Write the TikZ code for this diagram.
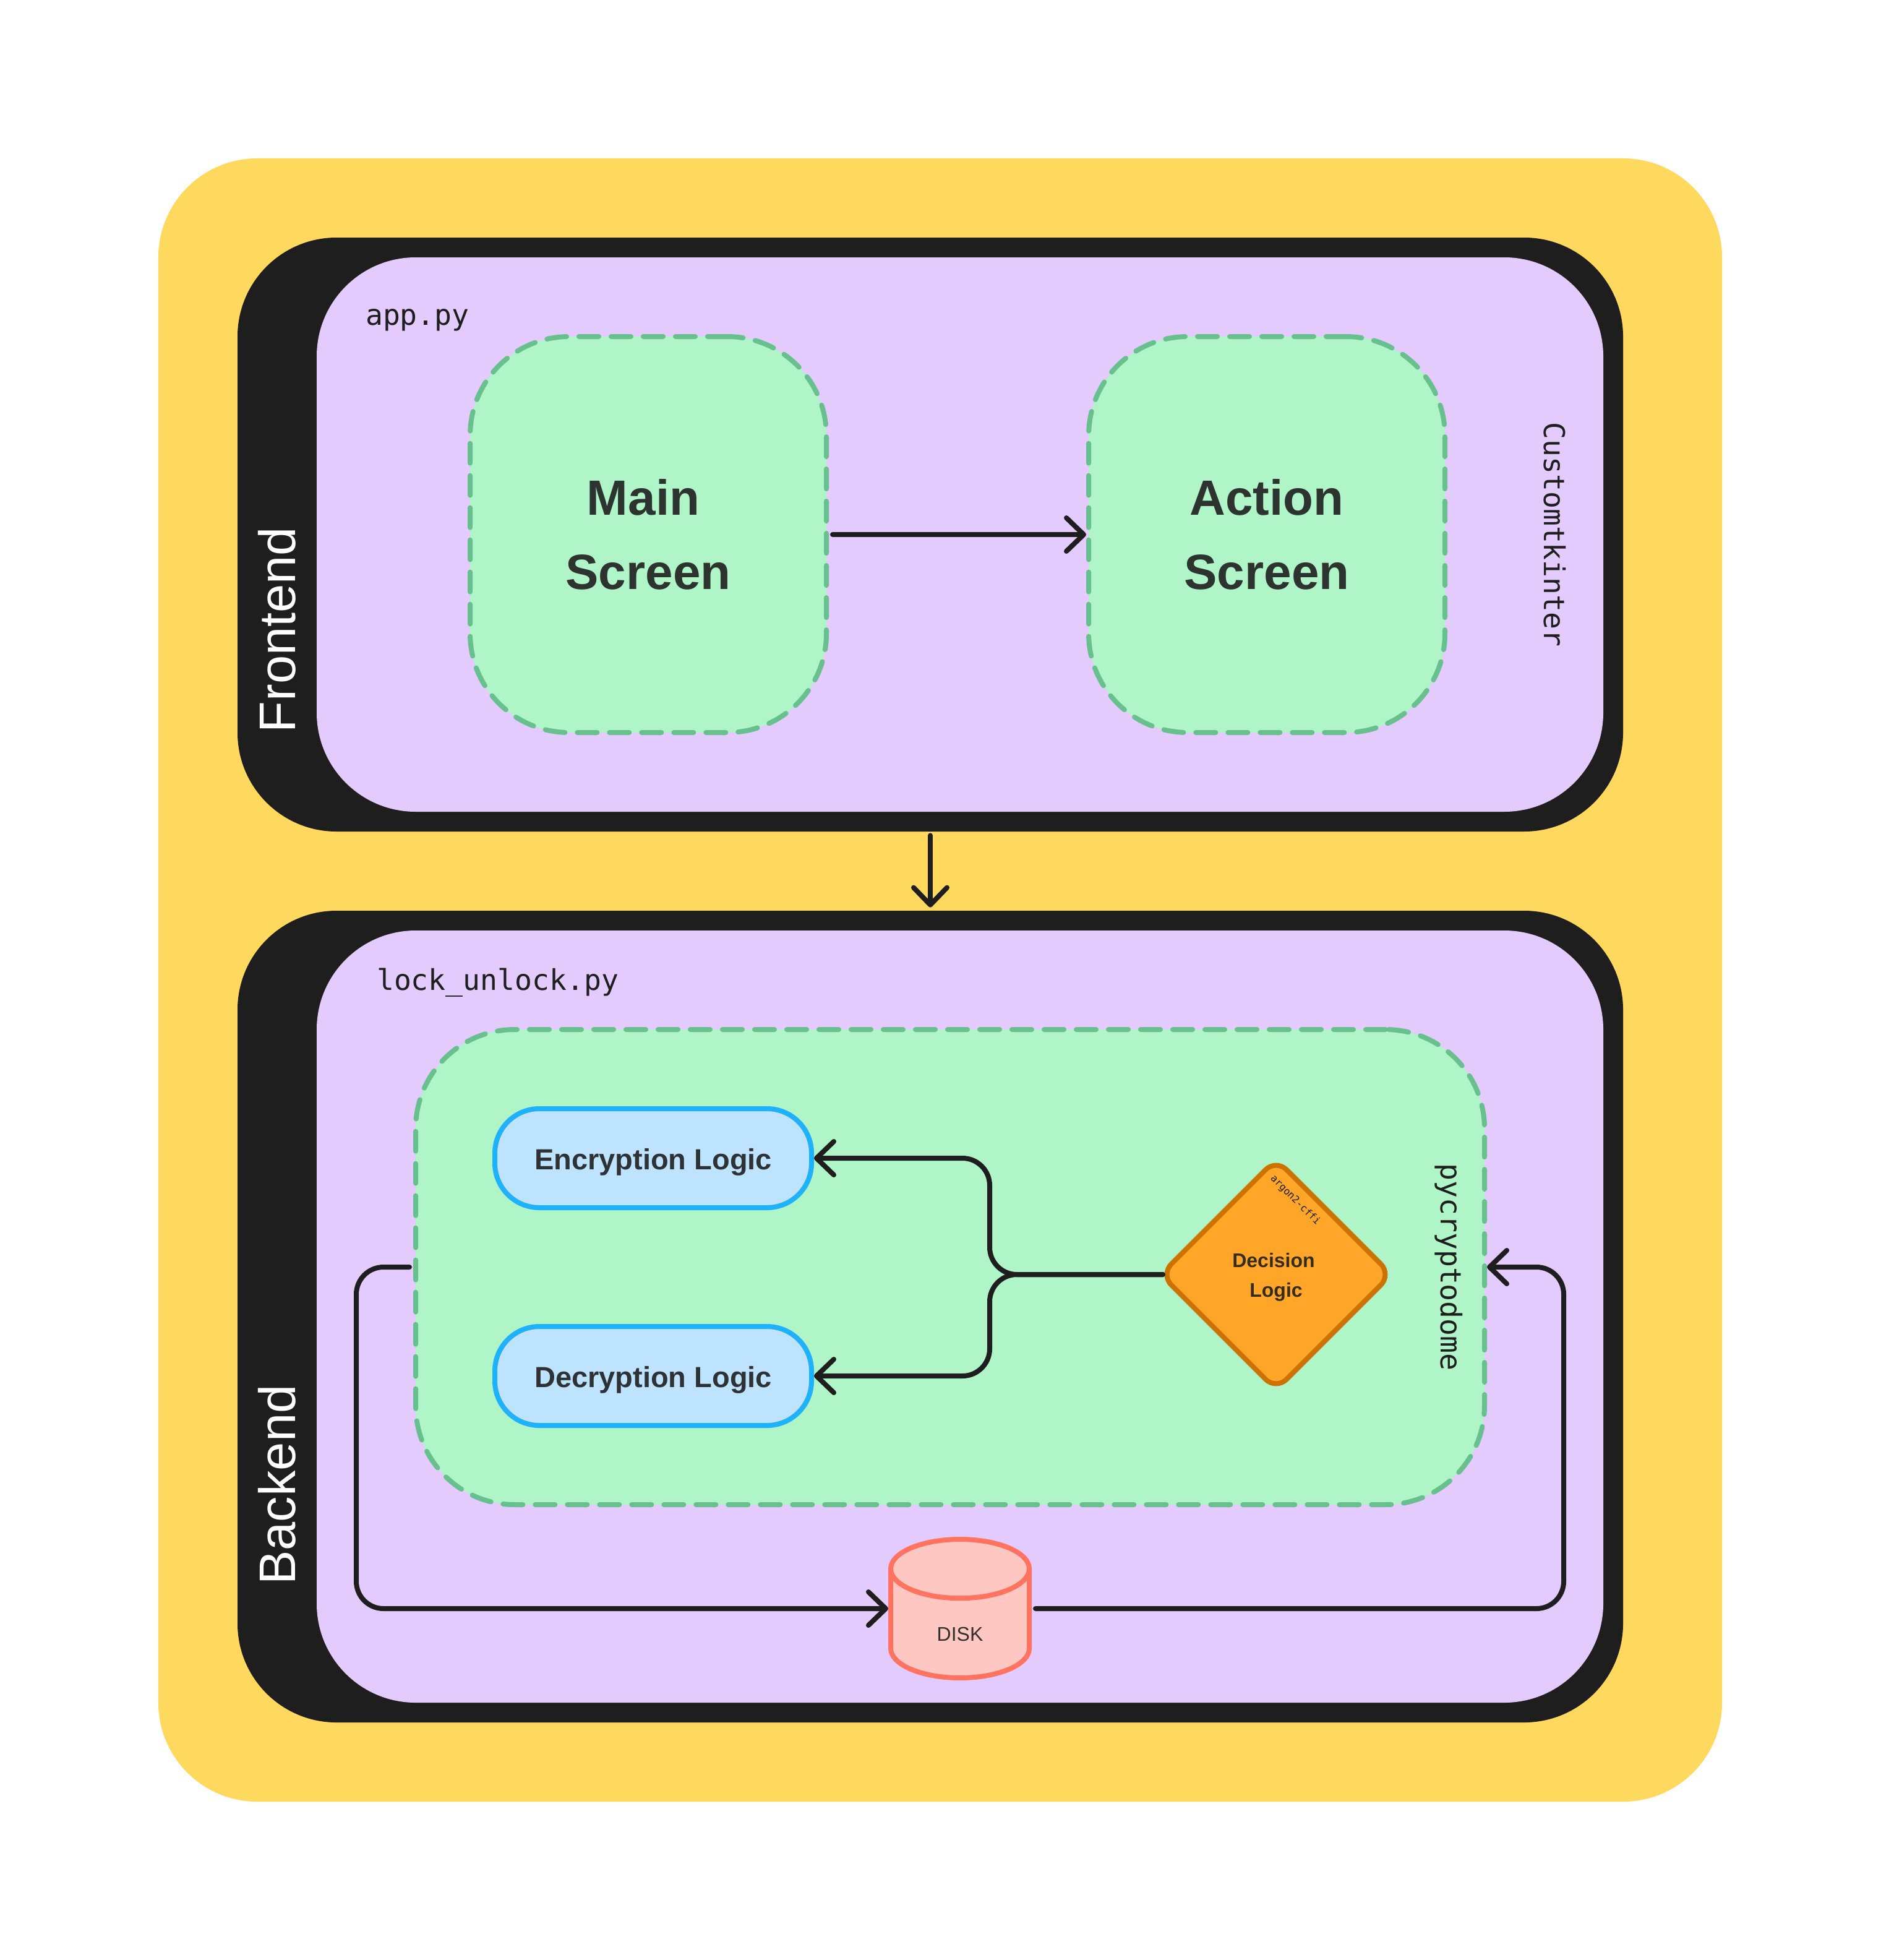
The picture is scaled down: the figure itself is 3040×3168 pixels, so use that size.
\documentclass[tikz,border=0pt]{standalone}
\usepackage{fontspec}
\setmainfont{Liberation Sans}
\setmonofont{DejaVu Sans Mono}
\usetikzlibrary{arrows.meta,shapes.geometric}
\definecolor{sand}{HTML}{FFD95E}
\definecolor{ink}{HTML}{1E1E1E}
\definecolor{lilac}{HTML}{E3CCFD}
\definecolor{mint}{HTML}{AFF5C8}
\definecolor{moss}{HTML}{69C08F}
\definecolor{sky}{HTML}{BDE3FF}
\definecolor{azure}{HTML}{1FB2FA}
\definecolor{amber}{HTML}{FFA629}
\definecolor{rust}{HTML}{CC7200}
\definecolor{blush}{HTML}{FFC7C2}
\definecolor{coral}{HTML}{FF7360}
\begin{document}
\begin{tikzpicture}[x=0.5pt,y=-0.5pt,
  panel/.style={rectangle,inner sep=0pt,rounded corners=80pt},
  layer/.style={panel,fill=ink,minimum width=1120pt},
  module/.style={panel,fill=lilac,minimum width=1040pt},
  zone/.style={panel,fill=mint,draw=moss,line width=4pt,line cap=round,dash pattern=on 16pt off 10pt},
  screenbox/.style={zone,minimum width=288pt,minimum height=320pt,align=center,font=\fontsize{40}{60}\selectfont\bfseries,text=ink!90!mint},
  logicbox/.style={panel,rounded corners=36pt,fill=sky,draw=azure,line width=4pt,minimum width=256pt,minimum height=80pt,text height=18.5pt,text depth=0pt,font=\fontsize{23.5}{24}\selectfont\bfseries,text=ink!90!sky},
  sidename/.style={font=\fontsize{41.5}{40}\selectfont,text=white,rotate=90},
  codename/.style={font=\ttfamily\fontsize{23.2}{23}\selectfont,text=ink},
  flow/.style={draw=ink,line width=4pt,line cap=round,-{Straight Barb[length=14pt,width=27pt,round]},shorten <=3pt},
  bentflow/.style={flow,rounded corners=22pt}]
\useasboundingbox (0,0) rectangle (3040,3168);
\node [panel,fill=sand,minimum width=1264pt,minimum height=1328pt] (board) at (1520,1584) {};
\node [layer,minimum height=480pt] (frontend) at (1504,864) {};
\node [layer,minimum height=656pt] (backend) at (1504,2128) {};
\node [module,minimum height=448pt] (apppy) at (1552,864) {};
\node [module,minimum height=624pt] (lockpy) at (1552,2128) {};
\node [sidename] (frontname) at (448,1018) {Frontend};
\node [sidename] (backname) at (448,2400) {Backend};
\node [codename,anchor=base west] (appname) at (584,525) {app.py};
\node [codename,anchor=base west] (lockname) at (602,1600) {lock\_unlock.py};
\node [screenbox] (main) at (1048,864) {Main\kern8pt\\Screen};
\node [screenbox] (action) at (2048,864) {Action\\Screen};
\node [codename,rotate=-90] (gui) at (2514,864) {Customtkinter};
\node [zone,minimum width=864pt,minimum height=384pt] (crypto) at (1536,2048) {};
\node [codename,rotate=-90] (lib) at (2342,2048) {pycryptodome};
\node [logicbox] (enc) at (1056,1872) {Encryption Logic};
\node [logicbox] (dec) at (1056,2224) {Decryption Logic};
\node [diamond,aspect=1,inner sep=0pt,rounded corners=12pt,fill=amber,draw=rust,line width=4pt,minimum size=188pt,align=center,font=\fontsize{16}{24}\selectfont\bfseries,text=ink!90!amber] (decide) at (2063,2060) {\rule{0pt}{15.5pt}Decision\kern4pt\\Logic};
\node [codename,font=\ttfamily\fontsize{8}{8}\selectfont,rotate=-45] (argon) at (2094,1940) {argon2-cffi};
\node [cylinder,anchor=shape center,shape border rotate=90,aspect=1.275,inner sep=0pt,fill=blush,draw=coral,line width=4pt,minimum width=112pt,minimum height=112pt,text height=27pt,text depth=0pt,font=\fontsize{16}{16}\selectfont,text=ink!90!blush] (disk) at (1552,2600) {DISK};
\coordinate (fork) at (1600,2060);
\coordinate (leftrun) at (576,2048);
\coordinate (rightrun) at (2528,2048);
\draw [flow] (main.east) -- (action.west);
\draw [flow,shorten >=2.5pt] (frontend.south) -- (backend.north);
\draw [bentflow] ([xshift=7.5pt]decide.west) -- (fork) |- (enc.east);
\draw [bentflow] ([xshift=7.5pt]decide.west) -- (fork) |- (dec.east);
\draw [bentflow] (crypto.west) -- (leftrun) |- (disk.shape center -| disk.west);
\draw [bentflow] (disk.shape center -| disk.east) -| (rightrun) -- (crypto.east);
\end{tikzpicture}
\end{document}
